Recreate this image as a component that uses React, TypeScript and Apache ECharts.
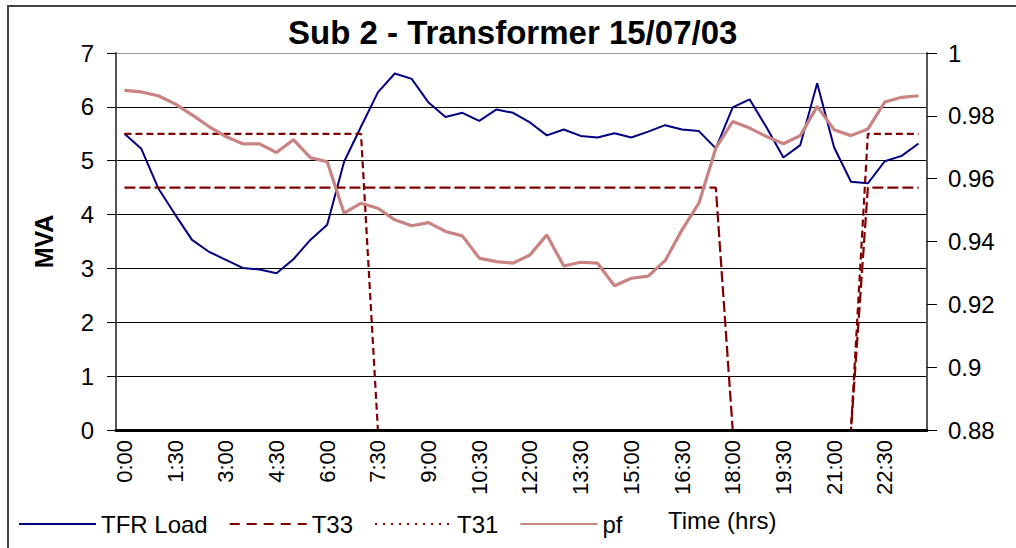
import React, { useEffect, useRef } from "react";
import * as echarts from "echarts";

const FONT = '"Liberation Sans", Arial, Helvetica, sans-serif';

const timeLabels = [
  "0:00", "0:30", "1:00", "1:30", "2:00", "2:30", "3:00", "3:30", "4:00", "4:30",
  "5:00", "5:30", "6:00", "6:30", "7:00", "7:30", "8:00", "8:30", "9:00", "9:30",
  "10:00", "10:30", "11:00", "11:30", "12:00", "12:30", "13:00", "13:30", "14:00", "14:30",
  "15:00", "15:30", "16:00", "16:30", "17:00", "17:30", "18:00", "18:30", "19:00", "19:30",
  "20:00", "20:30", "21:00", "21:30", "22:00", "22:30", "23:00", "23:30",
];

const tfrLoad = [
  5.5, 5.22, 4.49, 4.0, 3.53, 3.31, 3.16, 3.01, 2.98, 2.91,
  3.17, 3.53, 3.81, 4.98, 5.63, 6.27, 6.62, 6.52, 6.08, 5.81,
  5.89, 5.74, 5.95, 5.89, 5.71, 5.47, 5.58, 5.46, 5.43, 5.51,
  5.43, 5.54, 5.66, 5.58, 5.55, 5.23, 5.99, 6.14, 5.62, 5.06,
  5.29, 6.44, 5.25, 4.61, 4.58, 4.99, 5.09, 5.32,
];

const t33 = [
  4.5, 4.5, 4.5, 4.5, 4.5, 4.5, 4.5, 4.5, 4.5, 4.5,
  4.5, 4.5, 4.5, 4.5, 4.5, 4.5, 4.5, 4.5, 4.5, 4.5,
  4.5, 4.5, 4.5, 4.5, 4.5, 4.5, 4.5, 4.5, 4.5, 4.5,
  4.5, 4.5, 4.5, 4.5, 4.5, 4.5, 0, 0, 0, 0,
  0, 0, 0, 0, 4.5, 4.5, 4.5, 4.5,
];

const t31 = [
  5.5, 5.5, 5.5, 5.5, 5.5, 5.5, 5.5, 5.5, 5.5, 5.5,
  5.5, 5.5, 5.5, 5.5, 5.5, 0, 0, 0, 0, 0,
  0, 0, 0, 0, 0, 0, 0, 0, 0, 0,
  0, 0, 0, 0, 0, 0, 0, 0, 0, 0,
  0, 0, 0, 0, 5.5, 5.5, 5.5, 5.5,
];

const pf = [
  0.9881, 0.9876, 0.9864, 0.9838, 0.9803, 0.9766, 0.9734, 0.9711, 0.9711, 0.9683,
  0.9724, 0.9667, 0.9654, 0.949, 0.9522, 0.9506, 0.9469, 0.945, 0.946, 0.9432,
  0.9418, 0.9347, 0.9336, 0.9331, 0.9357, 0.9421, 0.9322, 0.9334, 0.9331, 0.9259,
  0.9283, 0.929, 0.9339, 0.9437, 0.9522, 0.9697, 0.9782, 0.9761, 0.9734, 0.9711,
  0.9737, 0.983, 0.9756, 0.9737, 0.9758, 0.9844, 0.9859, 0.9864,
];

export default function App() {
  const ref = useRef<HTMLDivElement>(null);

  useEffect(() => {
    if (!ref.current) return;
    const chart = echarts.init(ref.current, undefined, { renderer: "svg" });
    chart.setOption({
      animation: false,
      backgroundColor: "#fff",
      textStyle: { fontFamily: FONT },
      title: {
        text: "Sub 2 - Transformer 15/07/03",
        left: 283,
        top: 11,
        textStyle: { fontSize: 33, fontWeight: "bold", color: "#000", fontFamily: FONT },
      },
      grid: { left: 116, right: 89, top: 53, bottom: 118, containLabel: false },
      legend: {
        left: 13,
        top: 507,
        itemWidth: 77,
        itemHeight: 14,
        itemGap: 21,
        selectedMode: false,
        itemStyle: { color: "transparent", borderColor: "transparent", borderWidth: 0, opacity: 0 },
        textStyle: { fontSize: 24, color: "#000", fontFamily: FONT },
        data: [
          { name: "TFR Load" },
          { name: "T33", lineStyle: { type: [10, 7] } },
          { name: "T31", lineStyle: { type: [2, 6] } },
          { name: "pf" },
        ],
      },
      xAxis: {
        type: "category",
        data: timeLabels,
        boundaryGap: true,
        z: 5,
        axisLine: { lineStyle: { color: "#000", width: 3 } },
        axisTick: { interval: 0, length: 6, lineStyle: { color: "#666" } },
        axisLabel: {
          interval: 2,
          rotate: 90,
          fontSize: 22,
          color: "#000",
          margin: 10,
          fontFamily: FONT,
        },
        splitLine: { show: false },
      },
      yAxis: [
        {
          type: "value",
          min: 0,
          max: 7,
          interval: 1,
          name: "MVA",
          nameLocation: "middle",
          nameGap: 60,
          nameTextStyle: { fontSize: 25, fontWeight: "bold", color: "#000", fontFamily: FONT },
          axisLine: { show: true, lineStyle: { color: "#555", width: 2 } },
          axisTick: { show: true, length: 9, lineStyle: { color: "#000" } },
          axisLabel: { fontSize: 24, margin: 22, color: "#000", fontFamily: FONT },
          splitLine: {
            show: true,
            lineStyle: {
              color: ["#000", "#000", "#000", "#000", "#000", "#000", "#000", "#999"],
              width: 1,
            },
          },
        },
        {
          type: "value",
          min: 0.88,
          max: 1,
          interval: 0.02,
          position: "right",
          axisLine: { show: true, lineStyle: { color: "#555", width: 2 } },
          axisTick: { show: true, length: 10, lineStyle: { color: "#000" } },
          axisLabel: { fontSize: 24, margin: 21, color: "#000", fontFamily: FONT },
          splitLine: { show: false },
        },
      ],
      series: [
        {
          name: "TFR Load",
          type: "line",
          data: tfrLoad,
          symbol: "none",
          lineStyle: { color: "#000080", width: 2 },
          itemStyle: { color: "#000080" },
        },
        {
          name: "T33",
          type: "line",
          data: t33,
          symbol: "none",
          lineStyle: { color: "#800000", width: 2.2, type: [11, 4] },
          itemStyle: { color: "#800000" },
        },
        {
          name: "T31",
          type: "line",
          data: t31,
          symbol: "none",
          lineStyle: { color: "#800000", width: 2.2, type: [7, 4] },
          itemStyle: { color: "#800000" },
        },
        {
          name: "pf",
          type: "line",
          yAxisIndex: 1,
          data: pf,
          symbol: "none",
          lineStyle: { color: "#c98383", width: 3.2 },
          itemStyle: { color: "#c98383" },
        },
      ],
      graphic: [
        {
          type: "rect",
          silent: true,
          shape: { x: 8, y: 6, width: 1100, height: 600 },
          style: { fill: "none", stroke: "#444", lineWidth: 2 },
        },
        {
          type: "text",
          left: 668,
          top: 508,
          style: { text: "Time (hrs)", fontSize: 24, fill: "#000", fontFamily: FONT },
        },
      ],
    });
    return () => chart.dispose();
  }, []);

  return (
    <div
      ref={ref}
      style={{ position: "absolute", left: 0, top: 0, width: 1016, height: 548 }}
    />
  );
}
